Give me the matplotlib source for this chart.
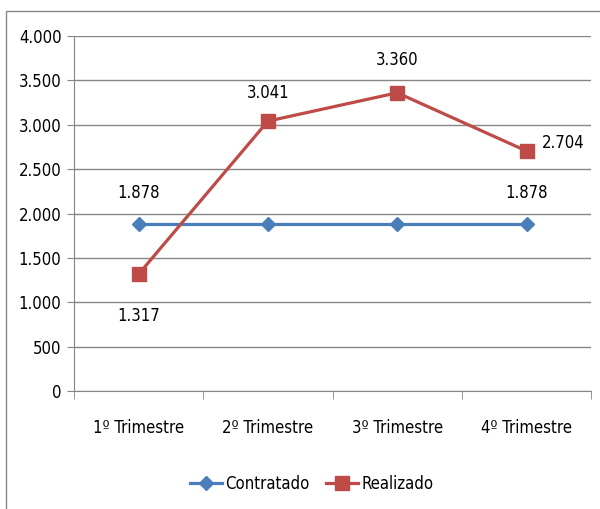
import matplotlib.pyplot as plt
from matplotlib.patches import Rectangle
from matplotlib.ticker import FuncFormatter

plt.rcParams['font.family'] = ['DejaVu Sans']
plt.rcParams['font.stretch'] = 'condensed'

trimestres = ['1º Trimestre', '2º Trimestre', '3º Trimestre', '4º Trimestre']
contratado = [1878, 1878, 1878, 1878]
realizado = [1317, 3041, 3360, 2704]

azul = '#4A7EBB'
vermelho = '#BE4B48'
cinza = '#868686'


def milhar(v, pos=None):
    return f'{int(v):,}'.replace(',', '.')


fig = plt.figure(figsize=(6, 5.09), dpi=100)
ax = fig.add_axes([0.1233, 0.2318, 0.862, 0.6975])

x = list(range(len(trimestres)))
ax.plot(x, contratado, color=azul, lw=2.3, marker='D', ms=7, label='Contratado')
ax.plot(x, realizado, color=vermelho, lw=2.3, marker='s', ms=9.5, label='Realizado')

# rótulos de dados
ax.annotate(milhar(contratado[0]), (x[0], contratado[0]), xytext=(0, 16),
            textcoords='offset points', ha='center', va='bottom', fontsize=12)
ax.annotate(milhar(contratado[3]), (x[3], contratado[3]), xytext=(0, 16),
            textcoords='offset points', ha='center', va='bottom', fontsize=12)
ax.annotate(milhar(realizado[0]), (x[0], realizado[0]), xytext=(0, -24),
            textcoords='offset points', ha='center', va='top', fontsize=12)
ax.annotate(milhar(realizado[1]), (x[1], realizado[1]), xytext=(0, 14),
            textcoords='offset points', ha='center', va='bottom', fontsize=12)
ax.annotate(milhar(realizado[2]), (x[2], realizado[2]), xytext=(0, 17),
            textcoords='offset points', ha='center', va='bottom', fontsize=12)
ax.annotate(milhar(realizado[3]), (x[3], realizado[3]), xytext=(11, 6),
            textcoords='offset points', ha='left', va='center', fontsize=12)

ax.set_xlim(-0.5, 3.5)
ax.set_ylim(0, 4000)
ax.set_yticks(range(0, 4001, 500))
ax.yaxis.set_major_formatter(FuncFormatter(milhar))
ax.set_xticks(x)
ax.set_xticklabels(trimestres)
ax.set_xticks([-0.5, 0.5, 1.5, 2.5, 3.5], minor=True)
ax.tick_params(axis='x', which='major', length=0, pad=20, labelsize=12)
ax.tick_params(axis='x', which='minor', length=6, color=cinza)
ax.tick_params(axis='y', length=5, color=cinza, labelsize=12, pad=4)

ax.grid(axis='y', color=cinza, lw=1)
ax.set_axisbelow(True)
for s in ['top', 'right']:
    ax.spines[s].set_visible(False)
for s in ['left', 'bottom']:
    ax.spines[s].set_color(cinza)

fig.legend(loc='center', bbox_to_anchor=(0.52, 0.05), ncol=2, frameon=False,
           fontsize=12, handlelength=1.9, columnspacing=1.0, handletextpad=0.2)

# moldura do gráfico (cortada à direita e embaixo)
fig.patches.append(Rectangle((0.01, -0.1), 1.1, 1.078, transform=fig.transFigure,
                             fill=False, edgecolor=cinza, lw=1))

fig.savefig('out.png', dpi=100)
